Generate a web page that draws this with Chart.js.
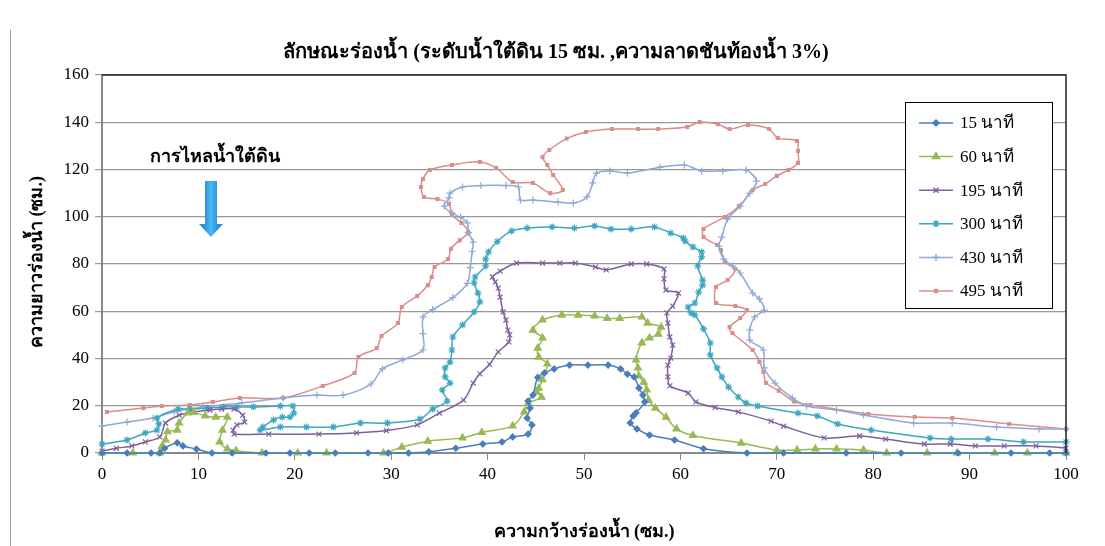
<!DOCTYPE html>
<html>
<head>
<meta charset="utf-8">
<script src="https://cdn.jsdelivr.net/npm/chart.js@4/dist/chart.umd.min.js"></script>
<style>
  html, body { margin: 0; padding: 0; background: #fff; }
  #wrap { width: 1105px; height: 546px; position: relative; }
</style>
</head>
<body>
<div id="wrap"><canvas id="chart" width="1105" height="546"></canvas></div>
<script>
// series values: [width (cm), length (cm)]
const s15 = [[0,0],[2.6,0],[5.1,0],[6.0,0],[6.5,2],[7.8,4.3],[8.4,3],[9.8,1.7],[11.4,0],[13.5,0],[17,0],[19.5,0],[21.5,0],
  [24.2,0],[27.6,0],[29.7,0],[31.8,0],[33.9,0.5],[36.7,2],[39.5,3.8],[41.5,4.7],[42.6,6.8],[44.2,8],[44.6,11.9],[44.1,14.8],
  [44.4,19],[44.2,22],[44.7,24.5],[45.2,32],[45.9,33.9],[46.9,35.6],[48.5,37.2],[50.4,37.2],[52.5,37.2],[53.8,35.6],[54.5,33.4],
  [55.2,32.2],[55.7,27.5],[56.1,24.5],[56.3,21.6],[55.4,17],[55.1,15.7],[54.8,12.7],[55.5,10.2],[56.8,7.6],[59.4,5.5],[62.4,1.8],
  [66.9,0],[70.7,0],[77.2,0],[82.9,0],[88.8,0],[94.3,0],[98.3,0],[100,0]];
const s60 = [[0,0],[3.2,0],[6,0],[6.2,2.7],[6.6,5.5],[6.8,9],[7.8,9.7],[8,12.7],[8.9,17],[9.5,17.3],[10.7,15.7],[11.8,15.2],
  [13,15.2],[12.5,9.7],[12.2,4.7],[13,1.7],[13.9,1],[16.6,0],[20.3,0],[23.3,0],[29.2,0],[31.1,2.5],[33.8,5],[37.4,6.4],[39.4,8.7],
  [42.6,11.5],[43.8,17.4],[44.2,21],[45.6,23.6],[45.1,25.8],[45.3,27.4],[45.7,31],[46.2,37.7],[45.3,40.6],[45.2,44.4],[45.7,48.7],
  [44.7,52],[45.7,56.3],[47.7,58.4],[49.4,58.4],[51.1,58],[52.4,57],[53.7,57],[56,57.6],[56.6,55],[58,53.3],[57.7,50.3],[56.8,48.7],
  [56,46.6],[55.4,39.4],[55.6,36],[55.7,32.6],[56.2,30],[56.5,26.7],[56.7,22.4],[57.4,19],[58.5,15.2],[59.6,10.2],[61.3,7.4],
  [66.3,4.2],[70,1.3],[72.1,1.3],[74,1.7],[76.2,1.7],[79,1.3],[81.4,0],[85.6,0],[88.7,0],[92.6,0],[96,0],[100,0]];
const s195 = [[0,0.8],[1.5,2],[3.1,3],[4.5,4.7],[6,6.8],[6.6,12.7],[8,16],[9.4,17.3],[11.2,18.2],[12.4,18.6],[13.7,18.6],
  [14.6,16],[14.8,13.1],[14,11.9],[13.6,9.7],[13.7,8],[17.3,8],[22.5,8],[26.4,8.5],[29.5,9.5],[32.7,11.9],[35,16.9],[37.5,22.4],
  [38.5,29.6],[39.2,33.5],[40.2,37.5],[41.1,42.8],[42.2,47],[42.3,50],[42.1,52],[41.9,56.3],[41.6,59.7],[41.3,66],[41.1,69.8],
  [40.8,72.4],[40.5,74.5],[41.3,77],[43,80.4],[45.7,80.4],[47.5,80.4],[49.1,80.4],[51.2,78.7],[52.3,77.5],[54.9,80],[56.5,80],
  [58.3,77.9],[58.3,73.7],[58.5,69],[59.8,67.7],[59.2,62.2],[58.6,59.3],[58.7,55],[58.9,49.1],[59.2,45.7],[59,40.2],[58.7,37.2],
  [58.7,32.2],[58.9,28.4],[60.8,25.4],[61.6,21.6],[63.6,19.3],[66,17.4],[69.4,13.5],[70.7,11.4],[74.9,6.4],[78.6,7.2],[81.3,5.9],
  [85.3,3.8],[88,3.8],[90.6,3],[93.6,3],[96.9,3],[100,2.1]];
const s300 = [[0,3.8],[2.6,5.5],[4.5,8.5],[5.7,9.7],[5.9,12.3],[5.7,14.8],[7.9,18.6],[9.1,18.6],[10.9,19],[12.6,19.5],[14,19.5],
  [15.7,19.5],[18.5,19.9],[19.8,19.9],[19.9,16.9],[19.5,15.2],[18.7,15.2],[17.8,14],[16.7,11],[16.4,9.7],[18.5,11],[21.2,11],
  [24,11],[26.8,12.7],[29.6,12.7],[33,14.4],[34.3,18.6],[35.8,22],[35.3,26.7],[36.1,29.6],[35.6,32.2],[35.6,36],[36.1,38.5],
  [36.3,43.6],[36.4,49.1],[37.4,54.2],[38.6,59.7],[39.2,64],[39,67.7],[38.6,72],[38.7,74.5],[39.8,79.2],[39.8,82.1],[40.1,85.1],
  [41,89.5],[42.5,94],[44.1,95.2],[46.7,95.7],[49,95.2],[51.1,96.1],[52.8,94.8],[54.9,94.8],[57.3,95.7],[59,93.1],[60.3,91],
  [60.5,89.7],[61.3,87.2],[62.2,85.1],[62.2,83],[61.8,79.2],[62.3,73.2],[62.3,71.1],[61.9,68.1],[61.5,63.5],[60.8,61.8],[61.1,59.3],
  [61.5,58.4],[62.4,52.5],[63.1,46.6],[63.1,41.5],[63.8,36],[64.3,32.2],[65,27.9],[66,23.7],[66.8,21.2],[68,19.9],[72.2,16.9],
  [74.2,15.7],[76.3,12.3],[79.8,9.7],[85.9,6.4],[88.1,5.9],[91.9,5.9],[95.6,4.7],[100,4.7]];
const s430 = [[0,11.4],[2.6,13.1],[5.3,14.8],[7.5,17.5],[10.5,19.5],[14.5,21.2],[18.8,23.3],[22.3,24.5],[25,24.5],[27.9,29.2],
  [29.1,35.6],[31.2,39.4],[33.3,43.6],[33.3,50.5],[33.3,57.6],[34.3,60.7],[36.4,65.8],[37.9,71.8],[38.2,78.5],[38.4,85.3],
  [38.5,89.3],[38,93.3],[37.9,97.4],[37.2,99.7],[36.3,101.6],[35.5,104.5],[36,108],[36.1,110],[37.4,112.6],[39.3,113.2],
  [41.9,113.2],[43.2,112.6],[43.4,107.1],[44.7,107.1],[47.3,106.2],[48.9,105.8],[50.3,108.4],[50.9,114.3],[51.3,118.5],
  [52.7,119.4],[54.5,118.5],[57.9,121],[60.4,121.9],[62.2,119.4],[64.4,119.4],[66.8,119.8],[67.9,115.1],[67.2,110],[66.2,104.5],
  [64.9,99],[64.3,91.4],[64,87.6],[64.5,82.1],[65.4,79.2],[66.2,76.2],[67.5,67.7],[68.2,65.2],[68.7,60.5],[67.7,57.6],[67.2,52.1],
  [67.2,47.8],[68.6,43.6],[68.7,36],[69.8,29.6],[71.6,23.3],[73.1,19.9],[76.2,18.2],[79,16.1],[84.2,12.7],[88.2,12.7],[92.8,11],
  [97.2,10.2],[100,10.2]];
const s495 = [[0.5,17.4],[4.3,19],[6.2,19.9],[9.1,20.3],[11.5,21.6],[14.3,23.3],[18.8,23.3],[22.9,28.4],[26.2,33.9],[26.6,40.6],
  [28.5,44.4],[29,49.5],[30.7,55],[31.1,61.8],[32.7,66.5],[33.8,71],[34.2,74.5],[34.5,78.7],[35.9,82.1],[36.2,86.5],[37.1,90],
  [38,93.5],[37.3,97.4],[36.3,100.8],[36,105.5],[34.8,107.5],[33.4,108.4],[33.1,112.6],[33.3,116],[34,119.8],[36.3,121.9],
  [39.2,123.2],[40.9,120.6],[42.6,114.7],[44.7,114.3],[46.5,110],[47.8,111.3],[46.8,117.7],[46.2,121.9],[45.7,125.3],[46.4,128.3],
  [48.2,133.1],[50.2,135.9],[52.9,137.1],[55.6,137.1],[57.7,137.1],[60.7,138],[62,140.1],[63.9,139.2],[65.1,137.1],[67,138.8],
  [69.2,137.1],[70.1,133.3],[72.1,132.1],[72.2,127.8],[72.2,122.8],[71.2,119.8],[70,117.3],[68.8,113.9],[67.5,111.3],[66.1,104.5],
  [64.6,99.9],[62.4,94.8],[62.4,91.4],[63.8,88],[64.2,85.9],[64.6,80.8],[65.7,77.9],[64.9,73.2],[63.7,70.3],[63.7,63.5],[65.7,62.2],
  [66.9,60.5],[66.2,57.1],[65.1,53.3],[65.4,50.8],[67.5,43.6],[68.2,38.5],[68.6,34.3],[68.9,29.6],[70.2,26.4],[71.8,21.8],
  [73.5,20.3],[79.5,16.5],[84.3,15.2],[88.2,14.8],[94.1,12.3],[100,10.2]];

const seriesNames = ['15 นาที', '60 นาที', '195 นาที', '300 นาที', '430 นาที', '495 นาที'];
const seriesData = [s15, s60, s195, s300, s430, s495];
const seriesColors = ['#4A7EBB', '#98B954', '#7D5FA0', '#3FA6C2', '#8FA9D8', '#D98E8B'];
const seriesPoints = ['rectRot', 'triangle', 'crossRot', 'star', 'cross', 'rect'];
const seriesRadius = [3, 4, 3.5, 3.5, 3.5, 2];

const chartTitle = 'ลักษณะร่องน้ำ (ระดับน้ำใต้ดิน 15 ซม. ,ความลาดชันท้องน้ำ 3%)';
const xTitle = 'ความกว้างร่องน้ำ (ซม.)';
const yTitle = 'ความยาวร่องน้ำ (ซม.)';
const flowLabel = 'การไหลน้ำใต้ดิน';

const FONT = "'Liberation Serif', 'DejaVu Serif', serif";

// titles, arrow note and framed legend
const decorPlugin = {
  id: 'decor',
  beforeDraw(chart) {
    const ctx = chart.ctx;
    ctx.save();
    ctx.strokeStyle = '#a0a0a0';
    ctx.lineWidth = 1;
    ctx.beginPath();
    ctx.moveTo(10.5, 30);
    ctx.lineTo(10.5, 546);
    ctx.stroke();
    ctx.restore();
  },
  afterDraw(chart) {
    const ctx = chart.ctx;
    const a = chart.chartArea;
    ctx.save();
    // plot border (top/right dark)
    ctx.strokeStyle = '#222';
    ctx.lineWidth = 1.5;
    ctx.beginPath();
    ctx.moveTo(a.left, a.top);
    ctx.lineTo(a.right, a.top);
    ctx.lineTo(a.right, a.bottom);
    ctx.stroke();

    ctx.fillStyle = '#000';
    ctx.textAlign = 'center';
    ctx.textBaseline = 'middle';
    ctx.font = 'bold 20px ' + FONT;
    ctx.fillText(chartTitle, 556, 53);
    ctx.font = 'bold 18px ' + FONT;
    ctx.fillText(xTitle, 584, 532);
    ctx.save();
    ctx.translate(37, 262);
    ctx.rotate(-Math.PI / 2);
    ctx.fillText(yTitle, 0, 0);
    ctx.restore();

    // flow note and arrow
    ctx.font = 'bold 18px ' + FONT;
    ctx.fillText(flowLabel, 215, 157);
    const g = ctx.createLinearGradient(204, 0, 218, 0);
    g.addColorStop(0, '#2c8fd6');
    g.addColorStop(0.5, '#49b8f0');
    g.addColorStop(1, '#2c8fd6');
    ctx.fillStyle = g;
    ctx.beginPath();
    ctx.moveTo(205, 181);
    ctx.lineTo(217, 181);
    ctx.lineTo(217, 224);
    ctx.lineTo(223, 224);
    ctx.lineTo(211, 237);
    ctx.lineTo(199, 224);
    ctx.lineTo(205, 224);
    ctx.closePath();
    ctx.fill();

    // legend box
    ctx.fillStyle = '#fff';
    ctx.fillRect(905, 102, 147, 206);
    ctx.strokeStyle = '#000';
    ctx.lineWidth = 1;
    ctx.strokeRect(905.5, 102.5, 147, 206);
    ctx.font = '17px ' + FONT;
    ctx.textAlign = 'left';
    chart.data.datasets.forEach((ds, i) => {
      const y = 123 + i * 33.6;
      ctx.strokeStyle = ds.borderColor;
      ctx.lineWidth = 1.5;
      ctx.beginPath();
      ctx.moveTo(919, y);
      ctx.lineTo(953, y);
      ctx.stroke();
      ctx.fillStyle = ds.borderColor;
      Chart.helpers.drawPoint(ctx, {pointStyle: ds.pointStyle, radius: ds.pointRadius, rotation: 0, borderWidth: 1.2}, 936, y);
      ctx.fillStyle = '#000';
      ctx.fillText(ds.label, 960, y + 1);
    });
    ctx.restore();
  }
};

const datasets = seriesData.map((d, i) => ({
  label: seriesNames[i],
  data: d.map(p => ({x: p[0], y: p[1]})),
  showLine: true,
  borderColor: seriesColors[i],
  backgroundColor: seriesColors[i],
  pointBackgroundColor: seriesColors[i],
  pointBorderColor: seriesColors[i],
  pointStyle: seriesPoints[i],
  pointRadius: seriesRadius[i],
  pointBorderWidth: 1.2,
  borderWidth: 1.5,
  tension: 0.3,
  clip: 6
}));

new Chart(document.getElementById('chart'), {
  type: 'scatter',
  data: { datasets: datasets },
  options: {
    responsive: false,
    animation: false,
    layout: { padding: { top: 75, right: 39, left: 0, bottom: 0 } },
    plugins: { legend: { display: false }, tooltip: { enabled: false }, title: { display: false } },
    scales: {
      x: {
        type: 'linear',
        min: 0, max: 100,
        afterFit: s => { s.height = 93; },
        ticks: { stepSize: 10, color: '#000', font: { family: FONT, size: 17 }, padding: 4 },
        grid: { drawOnChartArea: false, drawTicks: true, tickLength: 7, color: '#888' },
        border: { color: '#888', width: 2 }
      },
      y: {
        type: 'linear',
        min: 0, max: 160,
        afterFit: s => { s.width = 102; },
        ticks: { stepSize: 20, color: '#000', font: { family: FONT, size: 17 }, padding: 6 },
        grid: { color: '#999', lineWidth: 1.2, tickLength: 7 },
        border: { color: '#888', width: 2 }
      }
    }
  },
  plugins: [decorPlugin]
});
</script>
</body>
</html>
